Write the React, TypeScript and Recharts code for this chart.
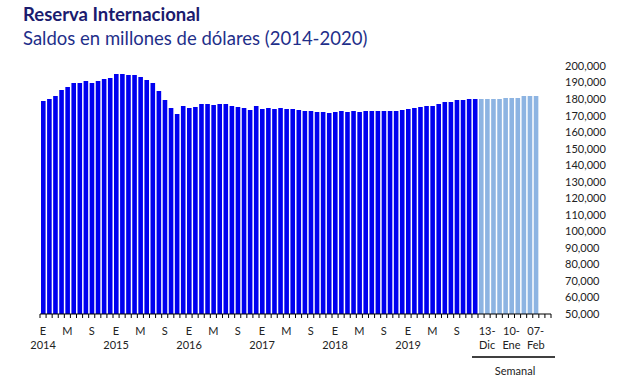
import { BarChart, Bar, XAxis, YAxis, Cell } from "recharts";

const years = ["2014", "2015", "2016", "2017", "2018", "2019"];
const monthInitials = ["E", "F", "M", "A", "M", "J", "J", "A", "S", "O", "N", "D"];
const shownMonths = [0, 4, 8];

// saldo mensual, millones de dólares (ene 2014 - dic 2019)
const monthlyReserves = [
  178800, 180000, 181800, 185500, 187300, 189700, 189700, 190900, 189700, 190900, 192100, 192700,
  195200, 195200, 194500, 194500, 193300, 191500, 189700, 184900, 179400, 174600, 171000, 175800,
  174600, 175200, 177000, 177000, 176400, 177000, 177000, 175800, 175200, 174600, 173400, 175800,
  174000, 174600, 174000, 174600, 174000, 174000, 173400, 172800, 172800, 172200, 172200, 171600,
  172200, 172800, 172200, 172800, 172200, 172800, 172800, 172800, 172800, 172800, 172800, 173400,
  174000, 174600, 175200, 175800, 175800, 177000, 178200, 178200, 179400, 179400, 180000, 180000,
];

const weeklyDates = [
  "06-Dic", "13-Dic", "20-Dic", "27-Dic", "03-Ene",
  "10-Ene", "17-Ene", "24-Ene", "31-Ene", "07-Feb",
];
const weeklyReserves = [180000, 180000, 180000, 180000, 180600, 180600, 180600, 181800, 181800, 181800];
const labeledWeeks = ["13-Dic", "10-Ene", "07-Feb"];
const emptySlots = 2;

const yTicks = [
  50000, 60000, 70000, 80000, 90000, 100000, 110000, 120000,
  130000, 140000, 150000, 160000, 170000, 180000, 190000, 200000,
];

type Row = {
  key: string;
  value: number | null;
  kind: "mensual" | "semanal" | "vacio";
  top: string;
  bottom: string;
};

const data: Row[] = [];
monthlyReserves.forEach((v, i) => {
  const m = i % 12;
  data.push({
    key: `m${i}`,
    value: v,
    kind: "mensual",
    top: shownMonths.includes(m) ? monthInitials[m] : "",
    bottom: m === 0 ? years[Math.floor(i / 12)] : "",
  });
});
weeklyReserves.forEach((v, i) => {
  const d = weeklyDates[i];
  const [day, mon] = d.split("-");
  const show = labeledWeeks.includes(d);
  data.push({ key: `w${i}`, value: v, kind: "semanal", top: show ? day + "-" : "", bottom: show ? mon : "" });
});
for (let i = 0; i < emptySlots; i++) {
  data.push({ key: `e${i}`, value: null, kind: "vacio", top: "", bottom: "" });
}
const rowByKey = new Map(data.map((r) => [r.key, r]));
const firstWeekly = data.findIndex((r) => r.kind === "semanal");

const W = 624;
const H = 386;
const margin = { top: 66, right: 13, left: 40, bottom: 12 };
const yAxisWidth = 60;
const plotW = W - margin.left - margin.right - yAxisWidth;
const slot = plotW / data.length;

const FONT = "Lato, 'Open Sans', sans-serif";
const BLUE = "#0000f0";
const LIGHT = "#8db4e2";

function AxisTick(props: any) {
  const { x, y, payload, index } = props;
  const row = rowByKey.get(payload.value);
  const half = slot / 2;
  const isLast = index === data.length - 1;
  return (
    <g>
      <line x1={x - half} x2={x - half} y1={y} y2={y + 4} stroke="#000" strokeWidth={1} />
      {isLast && <line x1={x + half} x2={x + half} y1={y} y2={y + 4} stroke="#000" strokeWidth={1} />}
      {row && row.top && (
        <text x={x} y={y + 20.5} textAnchor="middle" fontSize={11} fill="#222" fontFamily={FONT}>
          {row.top}
        </text>
      )}
      {row && row.bottom && (
        <text x={x} y={y + 34.5} textAnchor="middle" fontSize={11} fill="#222" fontFamily={FONT}>
          {row.bottom}
        </text>
      )}
      {index === firstWeekly && (
        <g>
          <line x1={x - half - 6} x2={x - half + 77} y1={y + 43} y2={y + 43} stroke="#000" strokeWidth={1.5} />
          <text x={x - half + 37} y={y + 61} textAnchor="middle" fontSize={11} fill="#222" fontFamily={FONT}>
            Semanal
          </text>
        </g>
      )}
    </g>
  );
}

export default function App() {
  return (
    <div style={{ position: "absolute", left: 0, top: 0, width: W, height: H, background: "#fff" }}>
      <svg width={W} height={60} style={{ position: "absolute", left: 0, top: 0 }}>
        <text x={23} y={21} fontSize={18.5} fontWeight={700} fill="#1b1b6e" fontFamily={FONT}>
          Reserva Internacional
        </text>
        <text x={23} y={45} fontSize={18.5} fill="#1f2f8a" fontFamily={FONT}>
          Saldos en millones de dólares (2014-2020)
        </text>
      </svg>
      <BarChart width={W} height={H} data={data} margin={margin} barSize={4.6}>
        <XAxis
          dataKey="key"
          interval={0}
          tickLine={false}
          tickSize={0}
          tickMargin={0}
          height={60}
          axisLine={{ stroke: "#000", strokeWidth: 1 }}
          tick={<AxisTick />}
        />
        <YAxis
          orientation="right"
          domain={[50000, 200000]}
          ticks={yTicks}
          interval={0}
          allowDataOverflow
          width={yAxisWidth}
          axisLine={false}
          tickLine={false}
          tickSize={0}
          tickMargin={14}
          tick={{ fontSize: 11, fill: "#222", fontFamily: FONT }}
          tickFormatter={(v: number) => v.toLocaleString("en-US")}
        />
        <Bar dataKey="value" isAnimationActive={false}>
          {data.map((r) => (
            <Cell key={r.key} fill={r.kind === "semanal" ? LIGHT : BLUE} />
          ))}
        </Bar>
      </BarChart>
    </div>
  );
}
